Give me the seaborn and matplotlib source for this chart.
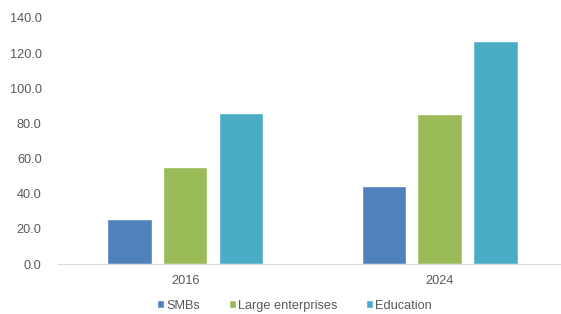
import matplotlib
matplotlib.use('Agg')
import matplotlib.pyplot as plt
import seaborn as sns
import pandas as pd

years = ['2016', '2024']
segments = ['SMBs', 'Large enterprises', 'Education']
smbs = [25.6, 44.5]
large = [55.0, 85.5]
education = [86.0, 127.0]
yticks = [0, 20, 40, 60, 80, 100, 120, 140]
colors = ['#4F81BD', '#9BBB59', '#4BACC6']

df = pd.DataFrame({
    'year': years * 3,
    'segment': [s for s in segments for _ in years],
    'value': smbs + large + education,
})

sns.set_style('white')
plt.rcParams['font.family'] = ['Liberation Sans', 'DejaVu Sans']

fig = plt.figure(figsize=(5.61, 3.14), dpi=100)
ax = fig.add_axes([0.104, 0.159, 0.906, 0.784])

sns.barplot(data=df, x='year', y='value', hue='segment', palette=colors,
            width=0.66, gap=0.21, ax=ax, saturation=1, errorbar=None)

ax.set_ylim(0, 140)
ax.set_yticks(yticks)
ax.set_yticklabels([f'{t:.1f}' for t in yticks], color='#595959', fontsize=9.2)
ax.tick_params(axis='x', colors='#595959', labelsize=9.2, length=0, pad=8)
ax.tick_params(axis='y', length=0, pad=12)
ax.set_xlabel('')
ax.set_ylabel('')
for s in ['top', 'right', 'left']:
    ax.spines[s].set_visible(False)
ax.spines['bottom'].set_color('#D9D9D9')

handles, labels = ax.get_legend_handles_labels()
ax.get_legend().remove()
fig.legend(handles, labels, loc='center', bbox_to_anchor=(0.525, 0.027), ncol=3,
           frameon=False, fontsize=9.2, handlelength=0.55, handleheight=0.55,
           handletextpad=0.2, columnspacing=2.2, labelcolor='#595959')

fig.savefig('out.png', dpi=100)
